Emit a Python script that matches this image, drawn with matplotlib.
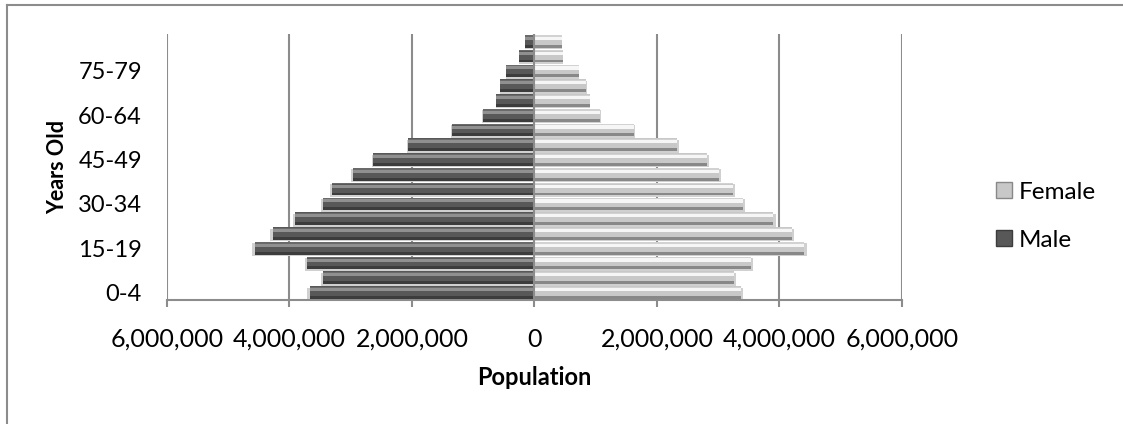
import numpy as np
import matplotlib.pyplot as plt
from matplotlib.patches import Patch
from matplotlib.ticker import FuncFormatter

plt.rcParams['font.family'] = ['Lato', 'DejaVu Sans']

ages = ['0-4', '5-9', '10-14', '15-19', '20-24', '25-29', '30-34', '35-39',
        '40-44', '45-49', '50-54', '55-59', '60-64', '65-69', '70-74',
        '75-79', '80-84', '85+']
male = [3670000, 3450000, 3710000, 4570000, 4270000, 3910000, 3450000,
        3300000, 2960000, 2630000, 2060000, 1350000, 845000, 626000,
        561000, 463000, 257000, 152000]
female = [3370000, 3260000, 3530000, 4400000, 4200000, 3900000, 3410000,
          3240000, 3010000, 2820000, 2330000, 1620000, 1070000, 905000,
          845000, 725000, 463000, 447000]
xticks = [-6000000, -4000000, -2000000, 0, 2000000, 4000000, 6000000]

y = np.arange(len(ages))
m = -np.array(male)
f = np.array(female)

fig = plt.figure(figsize=(11.23, 4.24), dpi=100)
ax = fig.add_axes([0.1487, 0.2925, 0.6545, 0.6274])

h = 0.86
# soft shadow, base bar, then bevel strips for a raised look
ax.barh(y - 0.1, m * 1.01, height=h, color='#d0d0d0', zorder=2)
ax.barh(y - 0.1, f * 1.01, height=h, color='#d0d0d0', zorder=2)

ax.barh(y, m, height=h, color='#585858', zorder=3)
ax.barh(y - 0.33, m, height=0.2, color='#3c3c3c', zorder=4)
ax.barh(y + 0.2, m, height=0.2, color='#909090', zorder=4)
ax.barh(y + 0.36, m, height=0.08, color='#6a6a6a', zorder=4)

ax.barh(y, f, height=h, color='#c8c8c8', zorder=3)
ax.barh(y - 0.33, f, height=0.2, color='#888888', zorder=4)
ax.barh(y + 0.2, f, height=0.22, color='#f6f6f6', zorder=4)
ax.barh(y + 0.36, f, height=0.08, color='#d2d2d2', zorder=4)

ax.set_xlim(-6000000, 6000000)
ax.set_ylim(-0.5, len(ages) - 0.5)
ax.set_xticks(xticks)
ax.xaxis.set_major_formatter(FuncFormatter(lambda v, p: f'{abs(int(v)):,}'))
ax.set_yticks(y[::3])
ax.set_yticklabels(ages[::3])

for s in ['top', 'right', 'left']:
    ax.spines[s].set_visible(False)
ax.spines['bottom'].set_color('#8c8c8c')
ax.spines['bottom'].set_linewidth(1.5)
ax.grid(axis='x', color='#8c8c8c', linewidth=1.5, zorder=0)
ax.set_axisbelow(True)
ax.axvline(0, color='#8c8c8c', linewidth=1.5, zorder=5)

ax.tick_params(axis='x', length=5, width=1.5, color='#8c8c8c', pad=15,
               labelsize=18)
ax.tick_params(axis='y', length=0, pad=18, labelsize=17)

ax.set_xlabel('Population', fontsize=17, fontweight='bold', labelpad=11)
ax.set_ylabel('Years Old', fontsize=15.5, fontweight='bold', labelpad=7)

handles = [Patch(facecolor='#c8c8c8', edgecolor='#888888'),
           Patch(facecolor='#585858', edgecolor='#3c3c3c')]
fig.legend(handles, ['Female', 'Male'], loc='center left',
           bbox_to_anchor=(0.887, 0.49), frameon=False, fontsize=17.5,
           handlelength=0.65, handleheight=0.65, handletextpad=0.3,
           labelspacing=1.1, borderaxespad=0, borderpad=0)

# chart area border (left and top edges)
fig.add_artist(plt.Line2D([0.0058, 0.0058], [0, 0.988], color='#8c8c8c',
                          linewidth=1.5, transform=fig.transFigure))
fig.add_artist(plt.Line2D([0.0058, 1], [0.988, 0.988], color='#8c8c8c',
                          linewidth=1.5, transform=fig.transFigure))

fig.savefig('out.png', dpi=100)
